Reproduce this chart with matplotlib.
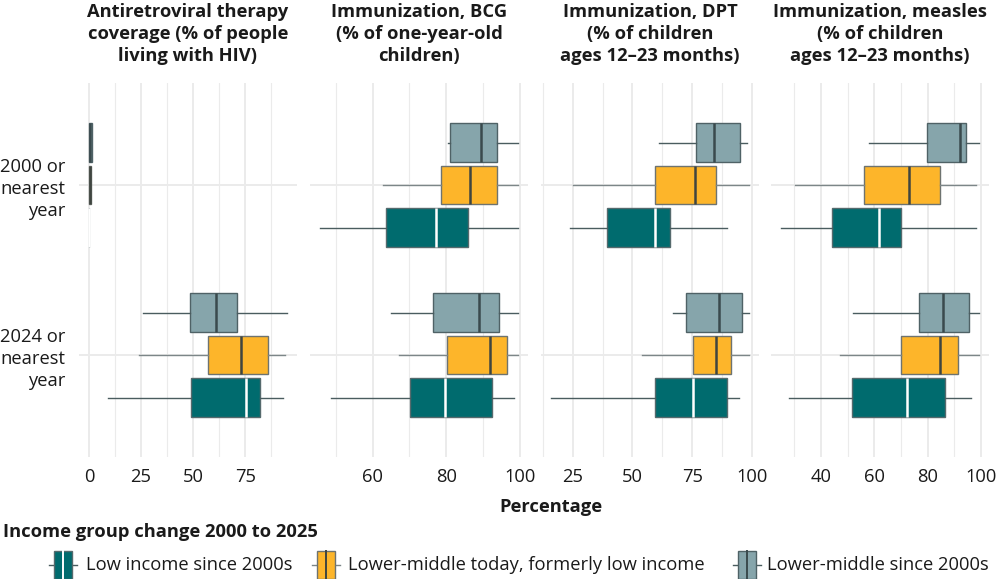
import matplotlib
matplotlib.use("Agg")
import matplotlib.pyplot as plt
from matplotlib.patches import Rectangle
from matplotlib.lines import Line2D

plt.rcParams['font.family'] = ['Open Sans', 'DejaVu Sans']

# ---------------- data ----------------
groups = ["Low income since 2000s",
          "Lower-middle today, formerly low income",
          "Lower-middle since 2000s"]
years = ["2000 or\nnearest\nyear", "2024 or\nnearest\nyear"]
titles = ["Antiretroviral therapy\ncoverage (% of people\nliving with HIV)",
          "Immunization, BCG\n(% of one-year-old\nchildren)",
          "Immunization, DPT\n(% of children\nages 12\u201323 months)",
          "Immunization, measles\n(% of children\nages 12\u201323 months)"]

# five-number summaries: [whisker low, Q1, median, Q3, whisker high]
# rows: 2000 (low, lm-formerly-low, lm), 2024 (low, lm-formerly-low, lm)
art_stats = [[0, 0, 0, 0, 0],
             [0, 0, 0.3, 0.8, 0.8],
             [0, 0, 0.5, 1.5, 1.5],
             [9.1, 49, 75.5, 82, 93],
             [24, 57, 73, 86, 94],
             [25.9, 48.3, 61.1, 71, 95]]
bcg_stats = [[45.6, 63.6, 77.1, 85.9, 99.6],
             [62.9, 78.5, 86.5, 93.8, 99.6],
             [80.4, 81, 89.4, 93.8, 99.6],
             [48.6, 70.2, 79.6, 92.5, 98.6],
             [67.1, 80.3, 91.9, 96.6, 99.6],
             [65, 76.5, 88.9, 94.4, 99.6]]
dpt_stats = [[23.9, 39.5, 59.3, 65.9, 89.7],
             [25, 59.4, 76.2, 84.8, 98.8],
             [61, 76.7, 84.1, 95, 97.8],
             [15.9, 59.6, 75.2, 89.4, 94.7],
             [53.9, 75.5, 85.1, 91.2, 98.8],
             [67, 72.4, 86.4, 95.9, 98.8]]
measles_stats = [[25.1, 44.2, 61.7, 70.1, 98.2],
                 [30.2, 56.1, 73.1, 84.5, 98.2],
                 [58.2, 79.7, 91.9, 94.4, 99.2],
                 [28.2, 51.6, 72.1, 86.5, 96.2],
                 [47.1, 70, 84.6, 91.4, 99.2],
                 [52.1, 76.7, 85.6, 95.4, 99.2]]
all_stats = [art_stats, bcg_stats, dpt_stats, measles_stats]

major_ticks = [[0, 25, 50, 75], [60, 80, 100], [25, 50, 75, 100], [40, 60, 80, 100]]

# ---------------- style ----------------
fills = ["#006B6E", "#FDB52A", "#86A5AB"]
edges = ["#556A6D", "#6E7370", "#4F6266"]
whisk = ["#4A5C5F", "#7C8688", "#4A5C5F"]
meds = ["#FFFFFF", "#3F4540", "#3A4A4D"]
grid_c = "#EBEBEB"
txt_c = "#1a1a1a"
fs = 13.2

W, H = 1000, 579
fig = plt.figure(figsize=(W / 100, H / 100), dpi=100)

def fx(px):
    return px / W

def fy(py):
    return 1 - py / H

panel_left = [79, 310, 541, 771]
panel_w = 218
top, bottom = 83, 457

row_center = [2, 1]           # 2000 on top, 2024 below
offsets = [-0.25, 0, 0.25]    # low (bottom), formerly low (middle), lm (top)
bw = 0.225

for i, stats in enumerate(all_stats):
    ax = fig.add_axes([fx(panel_left[i]), fy(bottom), fx(panel_w), (bottom - top) / H])
    lo = min(s[0] for s in stats)
    hi = max(s[4] for s in stats)
    r = hi - lo
    xmin, xmax = lo - 0.05 * r, hi + 0.05 * r
    ax.set_xlim(xmin, xmax)
    ax.set_ylim(0.4, 2.6)

    majors = major_ticks[i]
    step = majors[1] - majors[0]
    minors = [m - step / 2 for m in majors] + [majors[-1] + step / 2]
    for m in minors:
        if xmin < m < xmax:
            ax.axvline(m, color=grid_c, lw=0.8, zorder=0)
    for m in majors:
        ax.axvline(m, color=grid_c, lw=1.4, zorder=0)
    for rc in row_center:
        ax.axhline(rc, color=grid_c, lw=1.4, zorder=0)

    for g in range(3):
        bstats, pos = [], []
        for yi, rc in enumerate(row_center):
            s = stats[yi * 3 + g]
            bstats.append(dict(whislo=s[0], q1=s[1], med=s[2], q3=s[3], whishi=s[4], fliers=[]))
            pos.append(rc + offsets[g])
        ax.bxp(bstats, positions=pos, widths=bw, orientation='horizontal',
               patch_artist=True, showfliers=False, showcaps=False,
               boxprops=dict(facecolor=fills[g], edgecolor=edges[g], linewidth=1.0),
               whiskerprops=dict(color=whisk[g], linewidth=1.0),
               medianprops=dict(color=meds[g], linewidth=1.8),
               manage_ticks=False, zorder=2)

    ax.set_xticks(majors)
    ax.set_xticklabels([str(m) for m in majors], fontsize=fs, color=txt_c)
    ax.tick_params(axis='both', length=0, pad=8)
    if i == 0:
        ax.set_yticks(row_center)
        ax.set_yticklabels(years, fontsize=fs, color=txt_c, ha='right',
                           linespacing=1.3)
        ax.tick_params(axis='y', pad=10)
    else:
        ax.set_yticks([])
    for sp in ax.spines.values():
        sp.set_visible(False)

    fig.text(fx(panel_left[i] + panel_w / 2), fy(3), titles[i], ha='center', va='top',
             fontsize=fs, fontweight='bold', color=txt_c, linespacing=1.3)

# axis title
fig.text(fx(551), fy(507), "Percentage", ha='center', va='center',
         fontsize=fs, fontweight='bold', color=txt_c)

# legend
fig.text(fx(3), fy(532), "Income group change 2000 to 2025", ha='left', va='center',
         fontsize=fs, fontweight='bold', color=txt_c)
key_x = [49, 312, 733]
text_x = [86, 348, 767]
ly = 565
for g in range(3):
    x0 = key_x[g]
    fig.add_artist(Line2D([fx(x0), fx(x0 + 28)], [fy(ly), fy(ly)],
                          transform=fig.transFigure, color=whisk[g], lw=1.0, zorder=1))
    fig.add_artist(Rectangle((fx(x0 + 5), fy(579)), fx(18), 28 / H,
                             transform=fig.transFigure, facecolor=fills[g],
                             edgecolor=edges[g], lw=1.0, zorder=2))
    fig.add_artist(Line2D([fx(x0 + 14), fx(x0 + 14)], [fy(551), fy(579)],
                          transform=fig.transFigure, color=meds[g], lw=1.4, zorder=3))
    fig.text(fx(text_x[g]), fy(ly), groups[g], ha='left', va='center',
             fontsize=fs, color=txt_c)

fig.savefig("out.png", dpi=100, facecolor="white")
